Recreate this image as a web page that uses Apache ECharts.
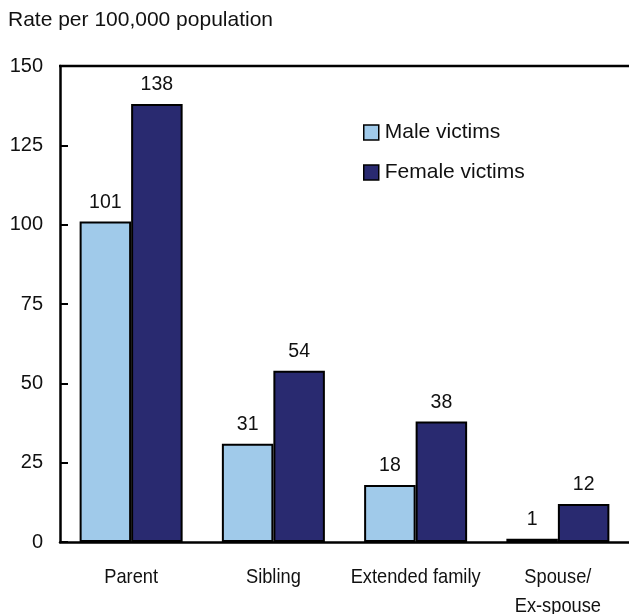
<!DOCTYPE html>
<html>
<head>
<meta charset="utf-8">
<script src="https://cdn.jsdelivr.net/npm/echarts@6/dist/echarts.min.js"></script>
<style>
html, body { margin: 0; padding: 0; background: #fff; }
#chart { width: 629px; height: 614px; }
</style>
</head>
<body>
<div id="chart"></div>
<script>
// Family violence victimization rates by relationship to accused
const categories = ['Parent', 'Sibling', 'Extended family', 'Spouse/\nEx-spouse'];
const maleVictims = [101, 31, 18, 1];
const femaleVictims = [138, 54, 38, 12];
const yTicks = [0, 25, 50, 75, 100, 125, 150];

const FONT = 'Liberation Sans, Arial, Helvetica, sans-serif';
const GRID_LEFT = 60;
const chart = echarts.init(document.getElementById('chart'));
const labelStyle = {
  show: true,
  position: 'top',
  distance: 9,
  color: '#111',
  fontFamily: FONT,
  fontSize: 19.5
};

chart.setOption({
  animation: false,
  title: {
    text: 'Rate per 100,000 population',
    left: 3,
    top: 5,
    textStyle: { fontFamily: FONT, fontSize: 21, fontWeight: 'normal', color: '#111' }
  },
  legend: {
    orient: 'vertical',
    left: 358,
    top: 117,
    itemWidth: 15,
    itemHeight: 15,
    itemGap: 19,
    icon: 'rect',
    itemStyle: { borderColor: '#000', borderWidth: 1.5 },
    textStyle: { fontFamily: FONT, fontSize: 21, lineHeight: 21, color: '#111', padding: [0, 0, 0, 1] },
    data: ['Male victims', 'Female victims']
  },
  grid: { left: GRID_LEFT, width: 572, top: 66, bottom: 72, containLabel: false },
  xAxis: {
    type: 'category',
    data: categories,
    axisLine: { show: true, lineStyle: { color: '#000', width: 2.5 } },
    axisTick: { show: false },
    // category names are drawn below as condensed text
    axisLabel: { show: false }
  },
  yAxis: {
    type: 'value',
    min: yTicks[0],
    max: yTicks[yTicks.length - 1],
    interval: 25,
    axisLine: { show: true, lineStyle: { color: '#000', width: 2.5 } },
    axisTick: { show: true, inside: true, length: 8, lineStyle: { color: '#000', width: 2 } },
    splitLine: { show: false },
    axisLabel: {
      color: '#111',
      fontFamily: FONT,
      fontSize: 20,
      margin: 17
    }
  },
  series: [
    {
      name: 'Male victims',
      type: 'bar',
      data: maleVictims,
      barWidth: 51.5,
      barGap: '0%',
      itemStyle: { color: '#a0caea', borderColor: '#000', borderWidth: 2 },
      label: labelStyle
    },
    {
      name: 'Female victims',
      type: 'bar',
      data: femaleVictims,
      barWidth: 51.5,
      barGap: '0%',
      itemStyle: { color: '#292a70', borderColor: '#000', borderWidth: 2 },
      label: labelStyle
    }
  ]
});

// Frame top edge and condensed category names placed via the axis scale
const gridTop = chart.convertToPixel({ yAxisIndex: 0 }, yTicks[yTicks.length - 1]);
const baseY = chart.convertToPixel({ yAxisIndex: 0 }, 0);
const graphics = [{
  type: 'line',
  shape: { x1: GRID_LEFT - 1, y1: gridTop, x2: 629, y2: gridTop },
  style: { stroke: '#000', lineWidth: 2.5 }
}];
categories.forEach(function (name, i) {
  graphics.push({
    type: 'text',
    x: chart.convertToPixel({ xAxisIndex: 0 }, i),
    y: baseY + 21,
    scaleX: 0.87,
    style: {
      text: name,
      font: '21px ' + FONT,
      fill: '#111',
      align: 'center',
      verticalAlign: 'top',
      lineHeight: 29
    }
  });
});
chart.setOption({ graphic: graphics });
</script>
</body>
</html>
